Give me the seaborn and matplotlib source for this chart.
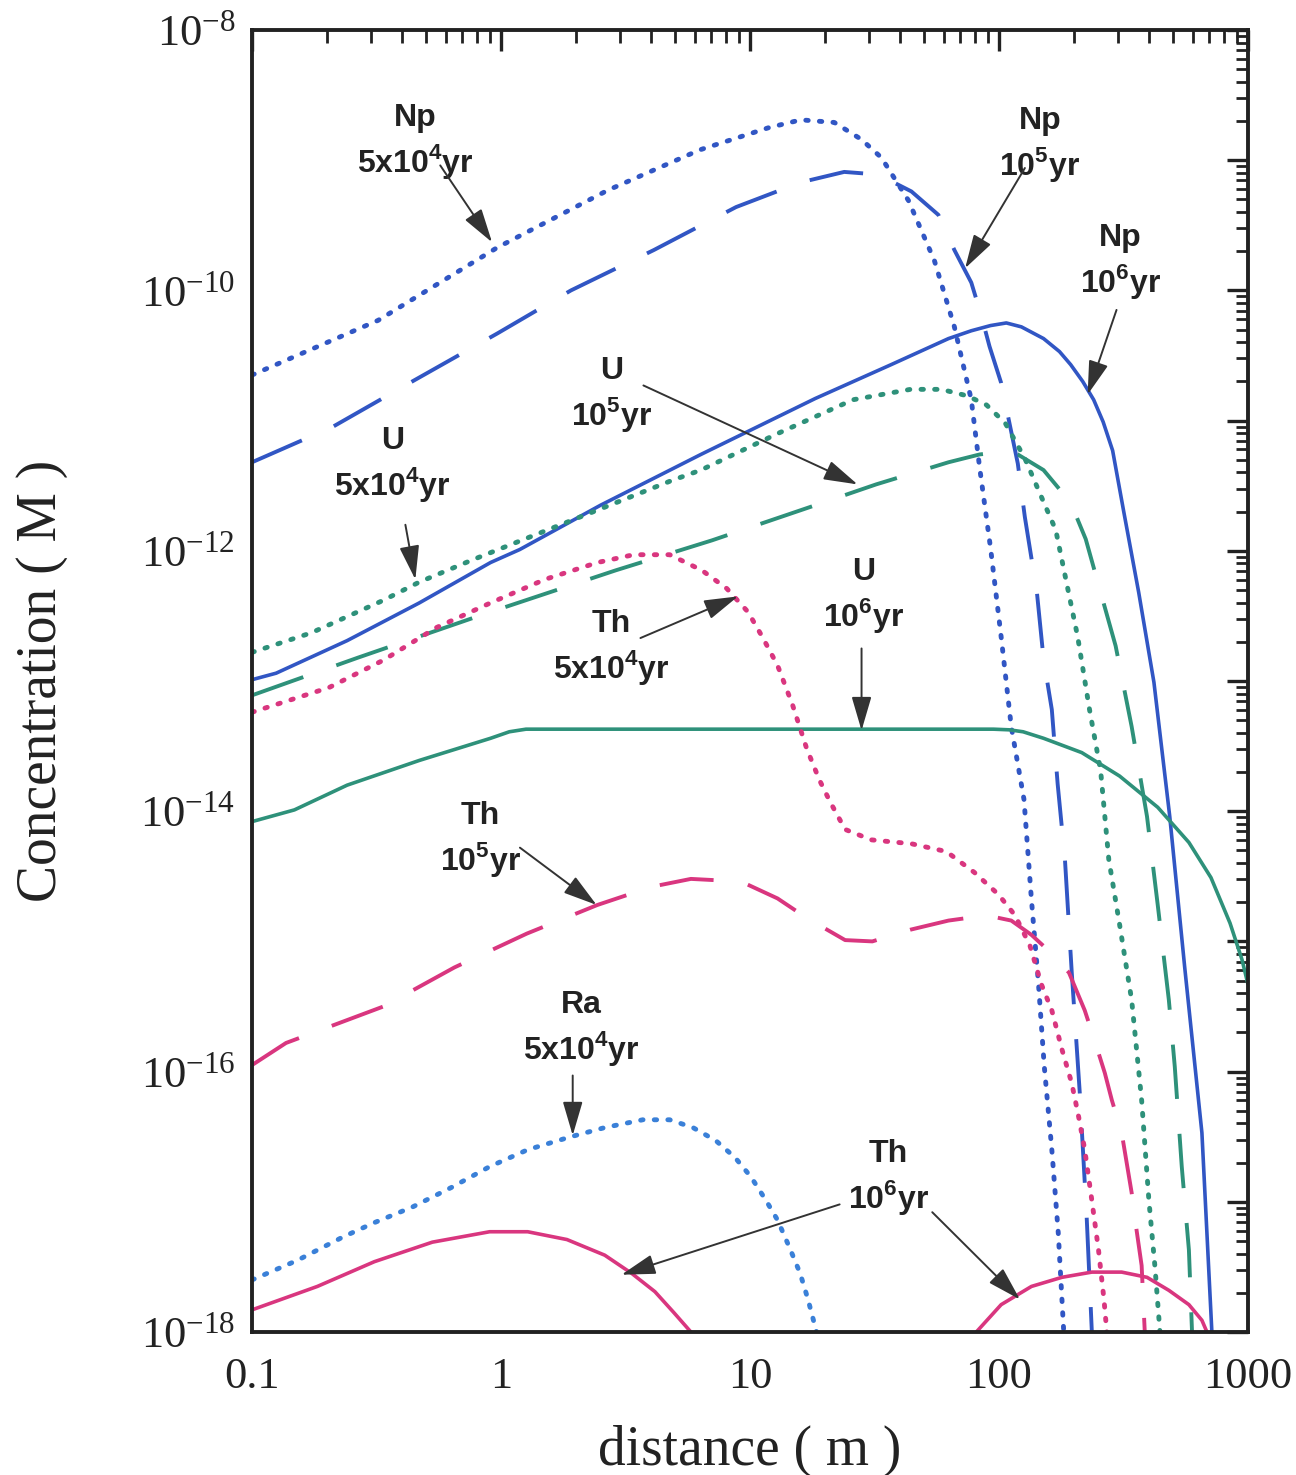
import numpy as np
import pandas as pd
import matplotlib
matplotlib.use("Agg")
import matplotlib.pyplot as plt
from matplotlib.ticker import LogLocator, NullFormatter, FixedLocator, FixedFormatter
import seaborn as sns

# ---------------------------------------------------------------------------
# Concentration profiles along the flow path (distance in m, log10 of conc. in M)
# ---------------------------------------------------------------------------
np_5e4_x = [0.1, 0.321, 0.968, 2.69, 6.30, 11.9, 16.0, 21.8, 28.0, 33.7, 43.3, 55.0,
            66.2, 77.4, 83.6, 92.5, 102, 112, 126, 135, 144, 152, 163, 173, 182]
np_5e4_logc = [-10.65, -10.23, -9.67, -9.23, -8.92, -8.75, -8.69, -8.71, -8.84, -8.98,
               -9.31, -9.77, -10.28, -10.84, -11.36, -11.98, -12.66, -13.35, -13.91,
               -14.68, -15.32, -15.96, -16.60, -17.24, -18.0]

np_1e5_x = [0.1, 0.210, 0.449, 0.968, 1.91, 4.11, 8.79, 16.0, 23.9, 32.7, 44.5, 57.1,
            66.2, 77.4, 85.1, 91.6, 102, 119, 127, 142, 151, 163, 172, 184, 196, 211,
            225, 236]
np_1e5_logc = [-11.32, -11.05, -10.69, -10.33, -10.00, -9.69, -9.36, -9.17, -9.09,
               -9.11, -9.24, -9.42, -9.69, -9.94, -10.20, -10.43, -10.71, -11.33,
               -11.74, -12.32, -12.83, -13.22, -13.79, -14.37, -15.24, -16.16, -17.12,
               -18.0]

np_1e6_x = [0.1, 0.125, 0.241, 0.470, 0.908, 1.19, 2.51, 6.35, 18.3, 36.9, 62.7, 77.4,
            92.5, 107, 123, 151, 175, 194, 217, 240, 262, 286, 317, 364, 419, 485, 557,
            653, 716]
np_1e6_logc = [-12.99, -12.94, -12.69, -12.40, -12.09, -11.99, -11.65, -11.26, -10.83,
               -10.57, -10.37, -10.31, -10.27, -10.25, -10.28, -10.37, -10.47, -10.57,
               -10.70, -10.84, -11.01, -11.23, -11.70, -12.32, -13.01, -14.04, -15.20,
               -16.47, -18.0]

u_5e4_x = [0.1, 0.173, 0.337, 0.470, 0.767, 4.85, 6.35, 12.9, 25.9, 44.1, 58.7, 74.6,
           89.1, 106, 127, 146, 169, 187, 207, 231, 256, 276, 305, 341, 374, 400, 423,
           443]
u_5e4_logc = [-12.78, -12.63, -12.38, -12.24, -12.07, -11.46, -11.38, -11.10, -10.84,
              -10.76, -10.76, -10.81, -10.88, -11.02, -11.29, -11.56, -11.84, -12.25,
              -12.66, -13.22, -13.69, -14.37, -14.87, -15.45, -16.22, -16.99, -17.50,
              -18.0]

u_1e5_x = [0.1, 0.267, 0.875, 2.89, 7.03, 18.3, 32.1, 62.7, 83.6, 102, 119, 151, 194,
           223, 256, 294, 341, 393, 434, 481, 508, 542, 579, 596]
u_1e5_logc = [-13.11, -12.82, -12.48, -12.15, -11.92, -11.65, -11.49, -11.32, -11.26,
              -11.24, -11.26, -11.38, -11.63, -11.91, -12.32, -12.73, -13.35, -14.04,
              -14.72, -15.45, -15.96, -16.73, -17.37, -18.0]

u_1e6_x = [0.1, 0.148, 0.241, 0.470, 0.908, 1.08, 1.26, 1.6, 95, 110, 125, 151, 215,
           305, 434, 579, 710, 847, 946, 1000]
u_1e6_logc = [-14.08, -13.99, -13.80, -13.61, -13.44, -13.39, -13.37, -13.37, -13.37,
              -13.375, -13.39, -13.44, -13.55, -13.73, -13.97, -14.24, -14.51, -14.86,
              -15.14, -15.33]

th_5e4_x = [0.1, 0.204, 0.337, 0.550, 0.908, 1.50, 2.44, 3.41, 4.76, 6.41, 8.07, 9.82,
            11.2, 12.9, 14.8, 16.9, 19.0, 21.0, 24.1, 30.7, 44.5, 61.5, 79.6, 99.5,
            116, 133, 148, 163, 179, 196, 209, 221, 236, 251, 264, 271]
th_5e4_logc = [-13.24, -13.05, -12.84, -12.59, -12.40, -12.22, -12.09, -12.03, -12.03,
               -12.15, -12.29, -12.47, -12.66, -12.88, -13.18, -13.52, -13.76, -13.93,
               -14.14, -14.22, -14.25, -14.31, -14.47, -14.64, -14.80, -15.03, -15.33,
               -15.53, -15.83, -16.09, -16.35, -16.60, -16.99, -17.37, -17.75, -18.0]

th_1e5_x = [0.1, 0.137, 0.337, 0.650, 1.27, 2.44, 4.04, 5.79, 9.20, 12.9, 16.9, 24.1,
            31.0, 44.1, 62.7, 89.1, 112, 135, 158, 191, 221, 242, 266, 284, 311, 341,
            357, 374, 385]
th_1e5_logc = [-15.95, -15.78, -15.50, -15.20, -14.94, -14.72, -14.58, -14.52, -14.54,
               -14.67, -14.82, -14.99, -15.00, -14.91, -14.84, -14.80, -14.84, -14.95,
               -15.07, -15.24, -15.53, -15.76, -16.01, -16.22, -16.47, -16.93, -17.22,
               -17.49, -18.0]

th_1e6_near_x = [0.1, 0.183, 0.310, 0.530, 0.900, 1.28, 1.84, 2.61, 3.35, 4.15, 4.94,
                 5.79]
th_1e6_near_logc = [-17.83, -17.65, -17.46, -17.31, -17.23, -17.23, -17.29, -17.41,
                    -17.55, -17.69, -17.85, -18.0]
th_1e6_far_x = [81.1, 102, 135, 179, 236, 311, 393, 481, 579, 653, 684]
th_1e6_far_logc = [-18.0, -17.79, -17.65, -17.58, -17.54, -17.54, -17.58, -17.68,
                   -17.79, -17.91, -18.0]

ra_5e4_x = [0.1, 0.152, 0.232, 0.310, 0.441, 0.632, 0.900, 1.28, 1.91, 2.61, 3.71, 4.76,
            5.90, 7.29, 8.71, 10.1, 11.6, 12.9, 14.4, 15.9, 17.1, 18.5]
ra_5e4_logc = [-17.60, -17.45, -17.27, -17.16, -17.04, -16.89, -16.73, -16.60, -16.50,
               -16.43, -16.37, -16.37, -16.43, -16.53, -16.66, -16.81, -16.99, -17.14,
               -17.35, -17.55, -17.75, -18.0]

x_tick_values = [0.1, 1, 10, 100, 1000]
x_tick_labels = ["0.1", "1", "10", "100", "1000"]
y_tick_exponents = list(range(-18, -7))
y_label_exponents = [-18, -16, -14, -12, -10, -8]

# ---------------------------------------------------------------------------
NP_BLUE = "#3156c4"
RA_BLUE = "#3a80d8"
U_GREEN = "#2e917a"
TH_PINK = "#d9367f"
INK = "#222222"

# line style: (linewidth, dash pattern or None, cap style)
DOT = (3.5, (0.5, 2.3), "round")
DASH = (2.8, (14.0, 9.0), "butt")
SOLID = (2.6, None, "butt")

series = [
    ("Np 5x10^4 yr", np_5e4_x, np_5e4_logc, NP_BLUE, DOT),
    ("Np 10^5 yr", np_1e5_x, np_1e5_logc, NP_BLUE, DASH),
    ("Np 10^6 yr", np_1e6_x, np_1e6_logc, NP_BLUE, SOLID),
    ("U 5x10^4 yr", u_5e4_x, u_5e4_logc, U_GREEN, DOT),
    ("U 10^5 yr", u_1e5_x, u_1e5_logc, U_GREEN, DASH),
    ("U 10^6 yr", u_1e6_x, u_1e6_logc, U_GREEN, SOLID),
    ("Th 5x10^4 yr", th_5e4_x, th_5e4_logc, TH_PINK, DOT),
    ("Th 10^5 yr", th_1e5_x, th_1e5_logc, TH_PINK, DASH),
    ("Th 10^6 yr (near)", th_1e6_near_x, th_1e6_near_logc, TH_PINK, SOLID),
    ("Th 10^6 yr (far)", th_1e6_far_x, th_1e6_far_logc, TH_PINK, SOLID),
    ("Ra 5x10^4 yr", ra_5e4_x, ra_5e4_logc, RA_BLUE, DOT),
]

sns.set_theme(style="white")
plt.rcParams["font.family"] = ["Liberation Sans", "DejaVu Sans"]
plt.rcParams["mathtext.fontset"] = "custom"
plt.rcParams["mathtext.rm"] = "Liberation Sans"
plt.rcParams["mathtext.bf"] = "Liberation Sans:bold"

fig = plt.figure(figsize=(12.96, 14.75), dpi=100)
fig.patch.set_facecolor("white")
ax = fig.add_axes([0.19444, 0.09695, 0.76852, 0.88271])
ax.set_facecolor("white")
ax.set_xscale("log")
ax.set_yscale("log")

for name, xs, logc, color, (lw, pattern, cap) in series:
    df = pd.DataFrame({"distance": xs, "conc": 10.0 ** np.asarray(logc)})
    n_before = len(ax.get_lines())
    sns.lineplot(data=df, x="distance", y="conc", ax=ax, color=color, linewidth=lw,
                 estimator=None, sort=False, legend=False)
    for line in ax.get_lines()[n_before:]:
        line.set_linewidth(lw)
        if pattern is not None:
            line.set_linestyle((0, pattern))
            line.set_dash_capstyle(cap)
        line.set_solid_capstyle("butt")
        line.set_solid_joinstyle("round")
        line.set_dash_joinstyle("round")

ax.set_xlim(0.1, 1000)
ax.set_ylim(1e-18, 1e-8)

# Ticks: inward on all four sides, labels only on every second decade of y
ax.xaxis.set_major_locator(FixedLocator(x_tick_values))
ax.xaxis.set_major_formatter(FixedFormatter(x_tick_labels))
ax.xaxis.set_minor_locator(LogLocator(base=10, subs=np.arange(2, 10), numticks=50))
ax.xaxis.set_minor_formatter(NullFormatter())

y_major = [10.0 ** e for e in y_tick_exponents]
y_labels = [r"$\mathdefault{10^{%d}}$" % e if e in y_label_exponents else ""
            for e in y_tick_exponents]
ax.yaxis.set_major_locator(FixedLocator(y_major))
ax.yaxis.set_major_formatter(FixedFormatter(y_labels))
ax.yaxis.set_minor_locator(LogLocator(base=10, subs=np.arange(2, 10), numticks=50))
ax.yaxis.set_minor_formatter(NullFormatter())

ax.tick_params(which="both", direction="in", top=True, right=True, colors=INK)
ax.tick_params(which="major", length=15, width=2.4)
ax.tick_params(which="minor", length=9, width=2.0)
ax.tick_params(axis="x", which="major", pad=18, labelsize=32)
ax.tick_params(axis="y", which="major", pad=12, labelsize=32)
for lbl in ax.get_xticklabels() + ax.get_yticklabels():
    lbl.set_fontfamily("Liberation Serif")
    lbl.set_color(INK)

for side in ["left", "right", "top", "bottom"]:
    ax.spines[side].set_visible(True)
    ax.spines[side].set_color(INK)
    ax.spines[side].set_linewidth(2.8)

ax.set_ylabel("Concentration ( M )", fontsize=40, fontfamily="Liberation Serif",
              color=INK, labelpad=52)
ax.set_xlabel("distance ( m )", fontsize=40, fontfamily="Liberation Serif",
              color=INK, labelpad=20)

# Curve annotations (axes-fraction layout): text centre, then arrow tail/tip pairs
annotations = [
    ("Np\n5x10$^{\\mathdefault{4}}$yr", (0.164, 0.914), [((0.189, 0.896), (0.241, 0.837))]),
    ("Np\n10$^{\\mathdefault{5}}$yr", (0.791, 0.912), [((0.776, 0.894), (0.716, 0.817))]),
    ("Np\n10$^{\\mathdefault{6}}$yr", (0.872, 0.822), [((0.868, 0.785), (0.839, 0.720))]),
    ("U\n10$^{\\mathdefault{5}}$yr", (0.361, 0.720), [((0.393, 0.727), (0.608, 0.651))]),
    ("U\n5x10$^{\\mathdefault{4}}$yr", (0.141, 0.666), [((0.154, 0.620), (0.164, 0.578))]),
    ("Th\n5x10$^{\\mathdefault{4}}$yr", (0.361, 0.525), [((0.390, 0.533), (0.488, 0.565))]),
    ("U\n10$^{\\mathdefault{6}}$yr", (0.614, 0.565), [((0.612, 0.525), (0.612, 0.462))]),
    ("Th\n10$^{\\mathdefault{5}}$yr", (0.229, 0.378), [((0.269, 0.372), (0.346, 0.328))]),
    ("Ra\n5x10$^{\\mathdefault{4}}$yr", (0.331, 0.233), [((0.322, 0.197), (0.322, 0.151))]),
    ("Th\n10$^{\\mathdefault{6}}$yr", (0.639, 0.118), [((0.590, 0.098), (0.371, 0.044)),
                                                      ((0.683, 0.092), (0.771, 0.025))]),
]

for text, centre, arrows in annotations:
    ax.text(centre[0], centre[1], text, transform=ax.transAxes, ha="center",
            va="center", fontsize=23, fontweight="bold", color=INK, linespacing=1.3,
            fontfamily="Liberation Sans", zorder=5)
    for tail, tip in arrows:
        ax.annotate("", xy=tip, xytext=tail, xycoords="axes fraction",
                    textcoords="axes fraction", zorder=5,
                    arrowprops=dict(arrowstyle="-|>,head_length=0.75,head_width=0.22",
                                    mutation_scale=28, color="#333333", lw=1.4,
                                    shrinkA=0, shrinkB=0))

fig.savefig("out.png", dpi=100, facecolor="white")
